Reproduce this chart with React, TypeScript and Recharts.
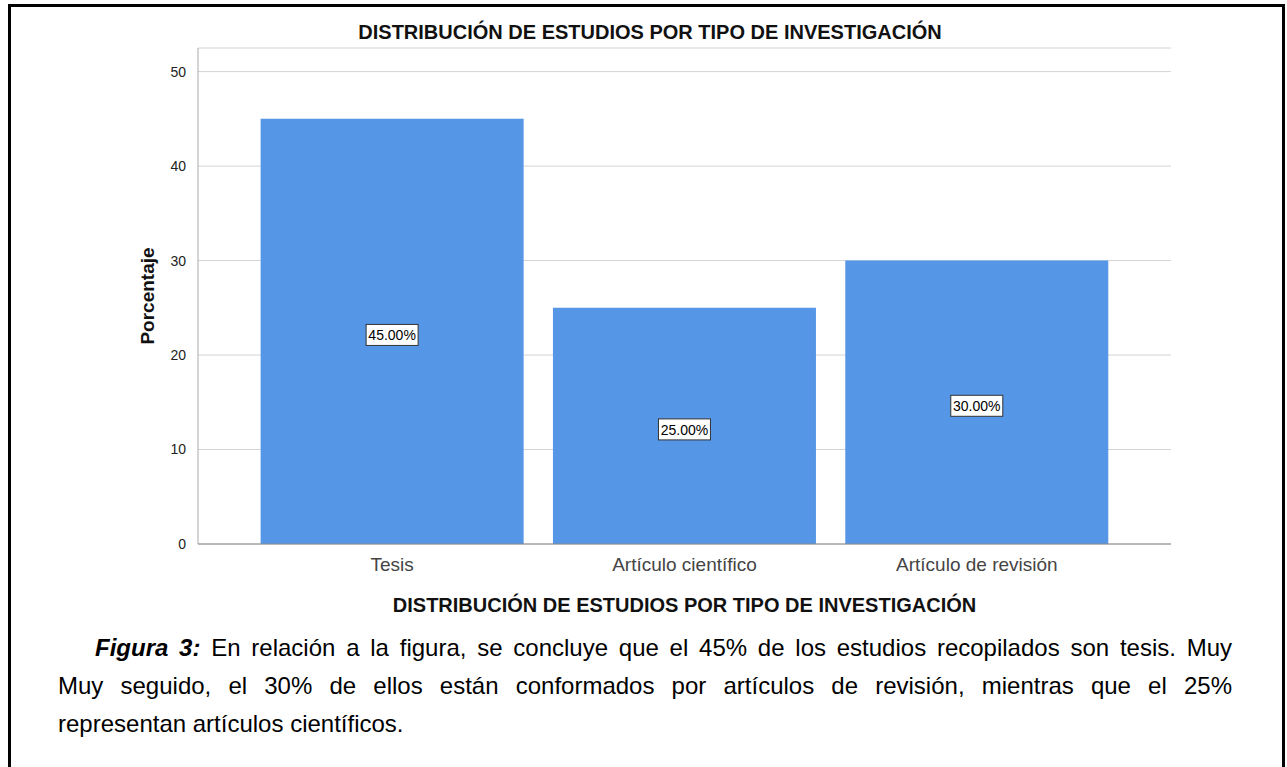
import { BarChart, Bar, XAxis, YAxis, CartesianGrid, LabelList } from 'recharts'

// ─── Data ────────────────────────────────────────────────────────────

const categories = ['Tesis', 'Artículo científico', 'Artículo de revisión']
const porcentajes = [45, 25, 30]
const yTicks = [0, 10, 20, 30, 40, 50]

const chartData = categories.map((name, i) => ({ name, porcentaje: porcentajes[i] }))

const FONT = '"Liberation Sans", Arial, sans-serif'
const TITLE = 'DISTRIBUCIÓN DE ESTUDIOS POR TIPO DE INVESTIGACIÓN'

// ─── Label box inside bars ───────────────────────────────────────────

function BoxLabel(props: any) {
    const { x, y, width, height, value } = props
    const cx = x + width / 2
    const cy = y + height / 2 + 3
    return (
        <g>
            <rect x={cx - 26} y={cy - 10} width={52} height={21} fill="#fff" stroke="#333" strokeWidth={1} />
            <text x={cx} y={cy + 1} textAnchor="middle" dominantBaseline="central" fontSize={14} fill="#000" fontFamily={FONT}>
                {`${Number(value).toFixed(2)}%`}
            </text>
        </g>
    )
}

// ─── Component ───────────────────────────────────────────────────────

export default function App() {
    return (
        <div style={{ position: 'absolute', left: 0, top: 0, width: 1287, height: 767, overflow: 'hidden', background: '#fff', fontFamily: FONT }}>
            <div style={{ position: 'absolute', left: 8, top: 4, width: 1271, height: 800, border: '3px solid #000' }} />

            <div style={{ position: 'absolute', left: 0, top: 21, width: 1300, textAlign: 'center', fontWeight: 'bold', fontSize: 20, lineHeight: '22px', color: '#111' }}>
                {TITLE}
            </div>

            <div style={{ position: 'absolute', left: 0, top: 0 }}>
                <BarChart width={1287} height={630} data={chartData} margin={{ top: 48, right: 116, left: 138, bottom: 6 }} barCategoryGap="5%">
                    <CartesianGrid vertical={false} stroke="#d4d4d4" />
                    <XAxis
                        dataKey="name"
                        padding={{ left: 48, right: 48 }}
                        axisLine={{ stroke: '#888' }}
                        tickLine={false}
                        tick={{ fill: '#444', fontSize: 19, fontFamily: FONT }}
                        tickMargin={8}
                        height={80}
                        label={{ value: TITLE, position: 'insideBottom', offset: 12, fill: '#111', fontSize: 20, fontWeight: 'bold', fontFamily: FONT }}
                    />
                    <YAxis
                        domain={[0, 52.5]}
                        ticks={yTicks}
                        width={60}
                        axisLine={{ stroke: '#aaa' }}
                        tickLine={false}
                        tick={{ fill: '#222', fontSize: 14, fontFamily: FONT }}
                        tickMargin={6}
                        label={{ value: 'Porcentaje', angle: -90, position: 'insideLeft', offset: 9, fill: '#111', fontSize: 19, fontWeight: 'bold', fontFamily: FONT, style: { textAnchor: 'middle' } }}
                    />
                    <Bar dataKey="porcentaje" fill="#5596e6" isAnimationActive={false}>
                        <LabelList dataKey="porcentaje" content={BoxLabel} />
                    </Bar>
                </BarChart>
            </div>

            <div style={{ position: 'absolute', left: 58, top: 629, width: 1174, fontSize: 24, lineHeight: '38px', color: '#000' }}>
                <div style={{ paddingLeft: 37, textAlign: 'justify', textAlignLast: 'justify', whiteSpace: 'nowrap' }}>
                    <b><i>Figura 3:</i></b> En relación a la figura, se concluye que el 45% de los estudios recopilados son tesis. Muy
                </div>
                <div style={{ textAlign: 'justify', textAlignLast: 'justify', whiteSpace: 'nowrap' }}>
                    Muy seguido, el 30% de ellos están conformados por artículos de revisión, mientras que el 25%
                </div>
                <div>representan artículos científicos.</div>
            </div>
        </div>
    )
}
